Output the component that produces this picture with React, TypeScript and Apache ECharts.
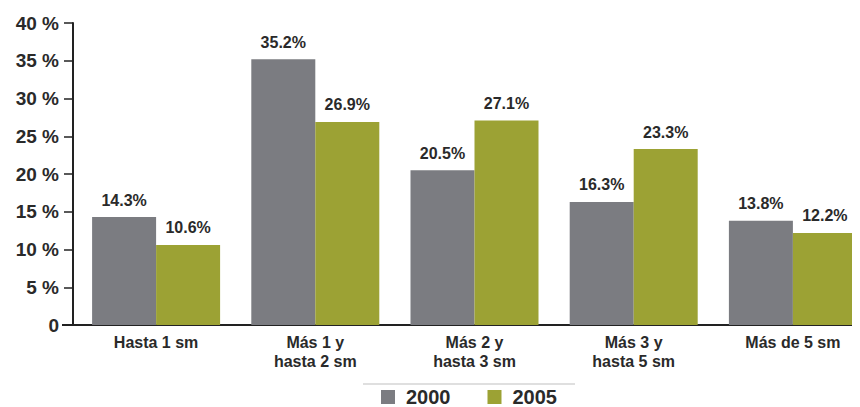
import React, { useEffect, useRef } from "react";
import * as echarts from "echarts";

const categories = ["Hasta 1 sm", "Más 1 y\nhasta 2 sm", "Más 2 y\nhasta 3 sm", "Más 3 y\nhasta 5 sm", "Más de 5 sm"];
const series2000 = [14.3, 35.2, 20.5, 16.3, 13.8];
const series2005 = [10.6, 26.9, 27.1, 23.3, 12.2];
const seriesNames = ["2000", "2005"];

const FONT = "'Liberation Sans Narrow', 'Arial Narrow', 'Liberation Sans', Arial, sans-serif";

export default function App() {
  const ref = useRef<HTMLDivElement>(null);
  useEffect(() => {
    const chart = echarts.init(ref.current!, null, { renderer: "svg" });
    const label = {
      show: true,
      position: "top",
      distance: 9,
      formatter: (p: any) => p.value.toFixed(1) + "%",
      fontFamily: FONT,
      fontWeight: "bold",
      fontSize: 16,
      color: "#2a2a2a",
    };
    chart.setOption({
      animation: false,
      textStyle: { fontFamily: FONT },
      grid: { left: 76.5, width: 796, top: 23, height: 302, containLabel: false, outerBoundsMode: "none" },
      legend: {
        top: 387,
        left: 381,
        itemWidth: 14,
        itemHeight: 14,
        itemGap: 37,
        icon: "rect",
        padding: 0,
        textStyle: { fontFamily: FONT, fontWeight: "bold", fontSize: 20, color: "#2a2a2a", padding: [0, 0, 0, 6] },
        data: seriesNames,
      },
      graphic: [
        {
          type: "line",
          shape: { x1: 363, y1: 384, x2: 575, y2: 384 },
          style: { stroke: "#d4d4d4", lineWidth: 1.5 },
        },
        {
          type: "line",
          shape: { x1: 62, y1: 325, x2: 78, y2: 325 },
          style: { stroke: "#222", lineWidth: 2 },
        },
      ],
      xAxis: {
        type: "category",
        data: categories,
        axisLine: { lineStyle: { color: "#222", width: 2 } },
        axisTick: { show: false },
        axisLabel: {
          fontFamily: FONT,
          fontWeight: "bold",
          fontSize: 16,
          color: "#2a2a2a",
          lineHeight: 19,
          margin: 8,
        },
      },
      yAxis: {
        type: "value",
        min: 0,
        max: 40,
        interval: 5,
        offset: 3.5,
        axisLine: { show: true, lineStyle: { color: "#222", width: 2 } },
        axisTick: { show: true, length: 9, lineStyle: { color: "#222", width: 1.5 } },
        splitLine: { show: false },
        axisLabel: {
          fontFamily: FONT,
          fontWeight: "bold",
          fontSize: 19,
          color: "#2a2a2a",
          margin: 14,
          formatter: (v: number) => (v === 0 ? "0" : v + " %"),
        },
      },
      series: [
        {
          name: seriesNames[0],
          type: "bar",
          data: series2000,
          barGap: "0%",
          barWidth: 64,
          itemStyle: { color: "#7b7c81" },
          label,
        },
        {
          name: seriesNames[1],
          type: "bar",
          data: series2005,
          barGap: "0%",
          barWidth: 64,
          itemStyle: { color: "#9ca234" },
          label,
        },
      ],
    });
    return () => chart.dispose();
  }, []);
  return <div ref={ref} style={{ width: 860, height: 407, marginLeft: -8, marginTop: -8 }} />;
}
